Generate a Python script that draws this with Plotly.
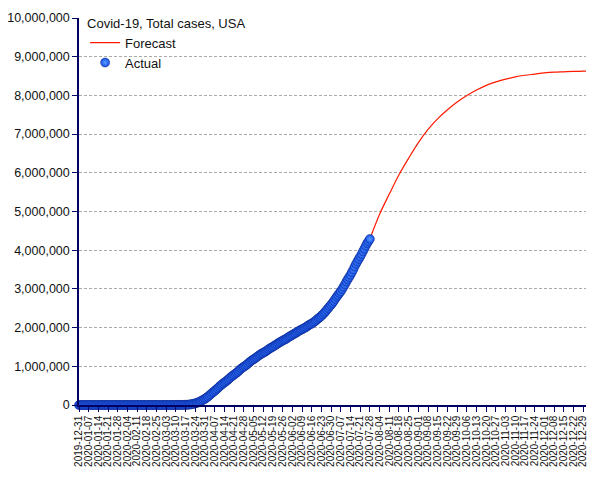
import pandas as pd
import plotly.graph_objects as go

# daily cumulative cases, starting 2019-12-31
actual_start = "2019-12-31"
actual_cases = (
    [0]
    # January
    + [0] * 21 + [1, 1, 1, 2, 2, 5, 5, 5, 5, 6]
    # February
    + [7, 8, 11, 11, 11, 12, 12, 12, 12, 12, 12, 13, 13, 14, 14, 14, 14, 14, 14,
       14, 14, 16, 16, 16, 16, 16, 16, 17, 25]
    # March
    + [32, 55, 74, 107, 184, 237, 403, 519, 594, 782, 1147, 1586, 2219, 2978,
       3212, 3499, 4632, 6421, 7786, 13680, 19101, 25493, 33276, 43847, 53740,
       65778, 83836, 101657, 121465, 140909, 161831]
    # April
    + [188172, 213242, 243622, 275367, 308650, 336802, 366317, 397121, 428654,
       462780, 496535, 526396, 555313, 580619, 607670, 636350, 667592, 699706,
       732197, 759086, 784326, 811865, 840351, 869170, 905358, 938154, 965785,
       988197, 1012582, 1039909]
    # May
    + [1069424, 1103461, 1132539, 1158040, 1180375, 1204351, 1229331, 1257023,
       1283929, 1309550, 1329260, 1347881, 1369376, 1390406, 1417774, 1442824,
       1467820, 1486757, 1508308, 1528568, 1551853, 1577147, 1600937, 1622612,
       1643246, 1662302, 1680913, 1699933, 1721750, 1747087, 1770165]
    # June
    + [1790191, 1811277, 1831821, 1851520, 1872660, 1897380, 1920061, 1938823,
       1956421, 1973797, 1994283, 2016027, 2041318, 2066508, 2085769, 2104346,
       2127796, 2154074, 2182018, 2214433, 2245005, 2272155, 2303710, 2339813,
       2377347, 2417425, 2462814, 2506380, 2549137, 2590668]
    # July
    + [2636414, 2687588, 2742049, 2795361, 2841241, 2891124, 2936077, 2996098,
       3054699, 3117946, 3185737, 3245925, 3304942, 3364157, 3431574, 3499398,
       3576157, 3647715, 3711413, 3773260, 3834677, 3899211, 3970121, 4038816,
       4112531, 4178970, 4233923, 4290263]
)
actual_dates = pd.date_range(actual_start, periods=len(actual_cases), freq="D")

forecast_dates = ["2020-07-28", "2020-08-04", "2020-08-11", "2020-08-18", "2020-08-25",
                  "2020-09-01", "2020-09-08", "2020-09-15", "2020-09-22", "2020-09-29",
                  "2020-10-06", "2020-10-13", "2020-10-20", "2020-10-27", "2020-11-03",
                  "2020-11-10", "2020-11-17", "2020-11-24", "2020-12-01", "2020-12-08",
                  "2020-12-15", "2020-12-22", "2020-12-29", "2020-12-31"]
forecast_cases = [4290263, 4930000, 5450000, 5950000, 6380000,
                  6780000, 7120000, 7400000, 7630000, 7830000,
                  8000000, 8140000, 8260000, 8350000, 8420000,
                  8480000, 8520000, 8550000, 8580000, 8600000,
                  8610000, 8620000, 8625000, 8628000]

tick_dates = pd.date_range("2019-12-31", "2020-12-29", freq="7D")
tick_labels = [d.strftime("%Y-%m-%d") for d in tick_dates]

navy = "#000066"

fig = go.Figure()

fig.add_trace(go.Scatter(
    x=forecast_dates, y=forecast_cases,
    mode="lines", name="Forecast",
    line=dict(color="#ff1a00", width=1.2, shape="spline"),
))

fig.add_trace(go.Scatter(
    x=actual_dates, y=actual_cases,
    mode="markers", name="Actual",
    cliponaxis=False,
    marker=dict(size=9, color="#1450e8",
                gradient=dict(type="radial", color="#5c9cff"),
                line=dict(color="#0a2080", width=0.5)),
))

fig.update_xaxes(
    range=["2019-12-31", "2020-12-31"],
    automargin=False,
    tickmode="array",
    tickvals=tick_dates,
    ticktext=tick_labels,
    tickangle=-90,
    tickfont=dict(family="Liberation Sans", size=10, color="#111111"),
    ticks="outside", ticklen=5, tickcolor=navy,
    showline=True, linecolor=navy, linewidth=1.5,
    showgrid=False, zeroline=False,
)

fig.update_yaxes(
    range=[0, 10000000],
    automargin=False,
    dtick=1000000,
    tickformat=",d",
    tickfont=dict(family="Liberation Sans", size=12.5, color="#111111"),
    ticks="outside", ticklen=5, tickcolor=navy,
    showline=True, linecolor=navy, linewidth=1.5,
    showgrid=True, gridcolor="#aaaaaa", gridwidth=1, griddash="3px,2px",
    zeroline=False,
)

fig.update_layout(
    width=605, height=480,
    margin=dict(l=79, r=19, t=17, b=75),
    paper_bgcolor="white",
    plot_bgcolor="white",
    font=dict(family="Liberation Sans", size=13, color="#111111"),
    hovermode=False,
    legend=dict(
        title=dict(text="Covid-19, Total cases, USA", font=dict(size=13)),
        x=0.012, y=1.016, xanchor="left", yanchor="top",
        bgcolor="rgba(0,0,0,0)",
        font=dict(size=13),
        itemwidth=30,
        tracegroupgap=0,
    ),
)

# drop the page's default body margin so the figure sits at the window corner
fig.write_html("out.html", config={"displayModeBar": False},
               post_script="document.body.style.margin='0';")
